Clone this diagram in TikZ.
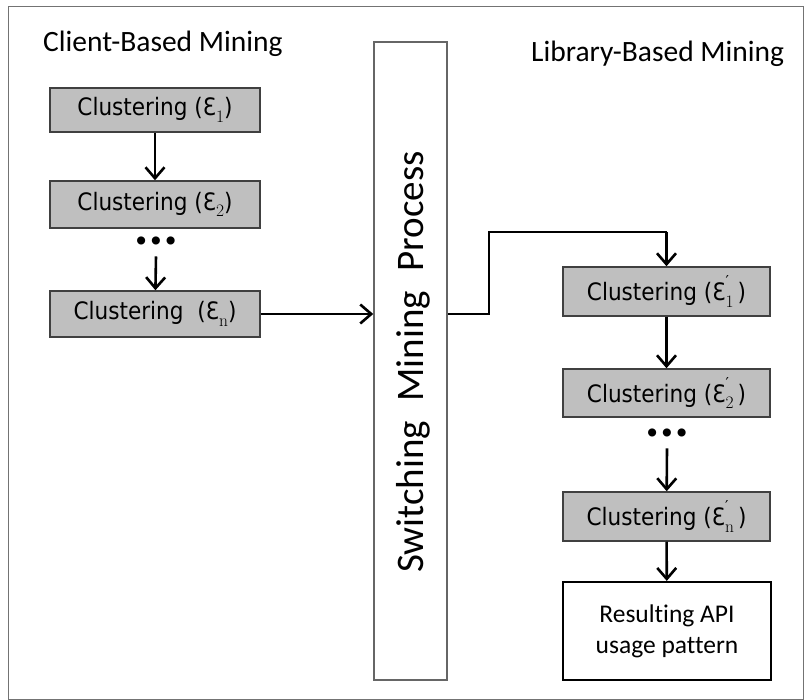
\documentclass[tikz,border=0pt]{standalone}
\usepackage{fontspec}
\usetikzlibrary{arrows.meta}
\newfontfamily\headfont[Ligatures=NoCommon]{Carlito}
\newfontfamily\boxfont[FakeStretch=0.9]{DejaVu Sans}
\newfontfamily\primefont{DejaVu Sans}
% Open epsilon with a serif subscript, optionally primed
\newcommand{\subsz}{\fontsize{17.5}{17.5}\selectfont\rmfamily}
\newcommand{\epsub}[1]{Ɛ\raisebox{-0.28em}{\subsz #1}}
\newcommand{\eppr}[1]{Ɛ\rlap{\raisebox{0.58em}{\fontsize{15}{15}\selectfont\primefont ′}}\raisebox{-0.28em}{\subsz #1}}
\definecolor{boxgray}{RGB}{191,191,191}
\tikzset{
  x=1pt, y=-1pt,
  gbox/.style={draw=black!75, line width=1.5pt, fill=boxgray, inner sep=0pt,
    font=\boxfont\fontsize{24}{27}\selectfont, text=black},
  wbox/.style={draw=black, line width=2.2pt, fill=white, inner sep=0pt, align=center,
    font=\headfont\fontsize{25.5}{31}\selectfont},
  tallbox/.style={draw=black!60, line width=1.5pt, fill=white, inner sep=0pt},
  heading/.style={font=\headfont\fontsize{29.5}{34}\selectfont, inner sep=0pt},
  dotrow/.style={font=\primefont\bfseries\fontsize{23}{23}\selectfont, inner sep=0pt},
  arr/.style={line width=2.6pt, -{Straight Barb[length=11pt,width=19pt,line width=2.6pt]}},
  link/.style={line width=2.6pt, line join=miter}
}
\begin{document}
\begin{tikzpicture}
\useasboundingbox (0,0) rectangle (804,700);
% outer frame
\draw[black!55, line width=1pt] (8,7) rectangle (803,699);

% headings
\node[heading, anchor=base west] (hleft) at (43,52) {Client-Based Mining};
\node[heading, anchor=base west] (hright) at (531,62) {Library-Based Mining};

% client-based column
\node[gbox, minimum width=210pt, minimum height=44pt] (c1) at (155,110) {Clustering (\epsub{1})};
\node[gbox, minimum width=210pt, minimum height=47pt] (c2) at (155,204.5) {Clustering (\epsub{2})};
\node[dotrow] (dl) at (156,243) {•••};
\node[gbox, minimum width=210pt, minimum height=46pt] (c3) at (155,314) {Clustering\ \ (\epsub{n})};

% switching process
\node[tallbox, minimum width=73pt, minimum height=638pt] (sw) at (410.5,361) {};
\node[font=\headfont\fontsize{39}{42}\selectfont, rotate=90, inner sep=0pt] (swt) at (413,362)
  {Switching\hspace{0.5em}Mining\hspace{0.5em}Process};

% library-based column
\node[gbox, minimum width=207pt, minimum height=49pt] (r1) at (666.5,291.5) {Clustering (\eppr{1}\,)};
\node[gbox, minimum width=207pt, minimum height=48pt] (r2) at (666.5,393) {Clustering (\eppr{2}\,)};
\node[dotrow] (dr) at (667,435) {•••};
\node[gbox, minimum width=207pt, minimum height=49pt] (rn) at (666.5,516.5) {Clustering (\eppr{n}\,)};
\node[wbox, minimum width=208pt, minimum height=98pt] (res) at (667,631) {Resulting API\\usage pattern};

% connectors
\draw[arr] (c1) -- (c2);
\draw[arr] ([yshift=-7pt]dl.south) -- (c3);
\draw[arr] (c3.east) -- (sw.west |- c3.east);
\coordinate (bend) at (489,232);
\draw[link] (sw.east |- c3.east) -- (bend |- c3.east) -- (bend) -- (r1.north |- bend);
\draw[arr] (r1.north |- bend) -- (r1.north);
\draw[arr] (r1) -- (r2);
\draw[arr] ([yshift=-7pt]dr.south) -- (rn);
\draw[arr] (rn) -- (res);
\end{tikzpicture}
\end{document}
